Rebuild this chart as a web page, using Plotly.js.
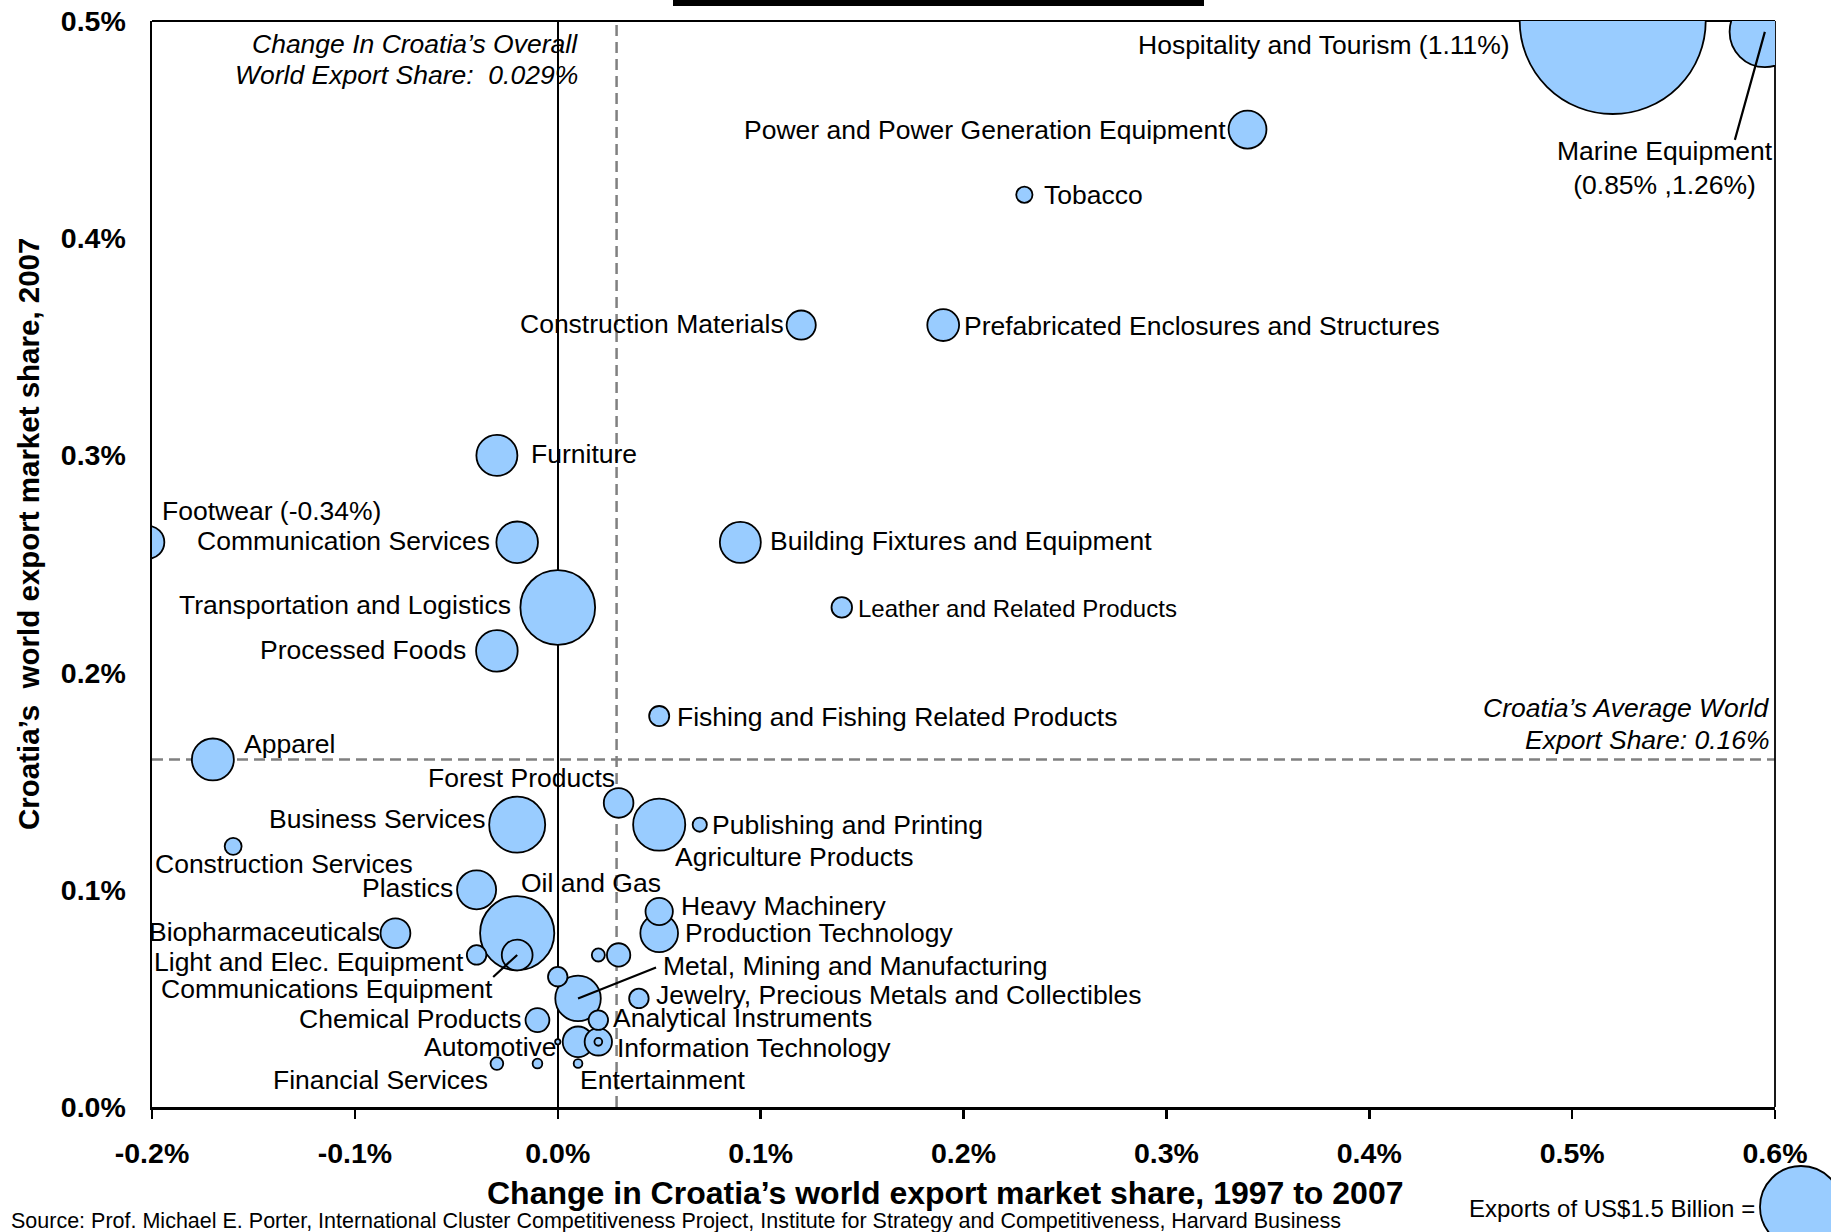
<!DOCTYPE html>
<html>
<head>
<meta charset="utf-8">
<script src="https://cdn.plot.ly/plotly-3.0.1.min.js"></script>
<style>
  html, body { margin: 0; padding: 0; background: #ffffff; }
  #chart { width: 1831px; height: 1232px; }
</style>
</head>
<body>
<div id="chart"></div>
<script>
// ---------------- DATA ----------------
// Cluster label texts ('' = bubble without a label in the original)
const labels = [
  'Hospitality and Tourism (1.11%)',
  'Marine Equipment<br>(0.85% ,1.26%)',
  'Power and Power Generation Equipment',
  'Tobacco',
  'Construction Materials',
  'Prefabricated Enclosures and Structures',
  'Furniture',
  'Footwear (-0.34%)',
  'Communication Services',
  'Transportation and Logistics',
  'Processed Foods',
  'Building Fixtures and Equipment',
  'Leather and Related Products',
  'Fishing and Fishing Related Products',
  'Apparel',
  'Forest Products',
  'Agriculture Products',
  'Publishing and Printing',
  'Business Services',
  'Construction Services',
  'Plastics',
  'Oil and Gas',
  'Biopharmaceuticals',
  'Light and Elec. Equipment',
  'Communications Equipment',
  'Heavy Machinery',
  'Production Technology',
  'Metal, Mining and Manufacturing',
  'Jewelry, Precious Metals and Collectibles',
  'Analytical Instruments',
  'Chemical Products',
  'Information Technology',
  'Automotive',
  'Financial Services',
  'Entertainment',
  '', '', '', '', '', ''
];
// Change in world export market share 1997-2007 (percentage points, as plotted)
const changeShare = [
  0.52, 0.595, 0.34, 0.23, 0.12, 0.19, -0.03, -0.202, -0.02, 0.0,
  -0.03, 0.09, 0.14, 0.05, -0.17, 0.03, 0.05, 0.07, -0.02, -0.16,
  -0.04, -0.02, -0.08, -0.04, -0.02, 0.05, 0.05, 0.01, 0.04, 0.02,
  -0.01, 0.02, 0.01, -0.03, 0.01,
  0.02, 0.0, 0.0, 0.02, 0.03, -0.01
];
// World export market share 2007 (%, as plotted)
const share2007 = [
  0.50, 0.495, 0.45, 0.42, 0.36, 0.36, 0.30, 0.26, 0.26, 0.23,
  0.21, 0.26, 0.23, 0.18, 0.16, 0.14, 0.13, 0.13, 0.13, 0.12,
  0.10, 0.08, 0.08, 0.07, 0.07, 0.09, 0.08, 0.05, 0.05, 0.04,
  0.04, 0.03, 0.03, 0.02, 0.02,
  0.03, 0.03, 0.06, 0.07, 0.07, 0.02
];
// Exports 2007, US$ billion (bubble size)
const exportsBn = [
  7.72, 1.11, 0.32, 0.059, 0.19, 0.226, 0.375, 0.24, 0.386, 1.247,
  0.386, 0.375, 0.094, 0.09, 0.393, 0.196, 0.606, 0.045, 0.70, 0.064,
  0.34, 1.228, 0.199, 0.085, 0.212, 0.167, 0.317, 0.462, 0.085, 0.085,
  0.127, 0.167, 0.21, 0.036, 0.017,
  0.0136, 0.0062, 0.085, 0.038, 0.122, 0.021
];
const overallChange = 0.029;   // Change in Croatia's overall world export share
const averageShare = 0.16;     // Croatia's average world export share
const legendExportBn = 1.5;    // size key bubble

const xTickVals = [-0.2, -0.1, 0.0, 0.1, 0.2, 0.3, 0.4, 0.5, 0.6];
const xTickLabels = ['-0.2%', '-0.1%', '0.0%', '0.1%', '0.2%', '0.3%', '0.4%', '0.5%', '0.6%'];
const yTickVals = [0.0, 0.1, 0.2, 0.3, 0.4, 0.5];
const yTickLabels = ['0.0%', '0.1%', '0.2%', '0.3%', '0.4%', '0.5%'];

// ---------------- LABEL PLACEMENT (style: anchor, dx px, dy px down, font) ----------------
const labelPlacement = [
  ['right', -103, 24], ['center', -100, 136], ['right', -22, 0], ['left', 20, 0],
  ['right', -17, -1], ['left', 21, 1], ['left', 34, -1], ['left', 14, -31],
  ['right', -27, -1], ['right', -47, -2], ['right', -31, -1], ['left', 30, -1],
  ['left', 16, 1, 24], ['left', 18, 1], ['left', 31, -15], ['right', -4, -25],
  ['left', 16, 32], ['left', 12, 0], ['right', -31, -6], ['left', -78, 18],
  ['right', -24, -2], ['left', 4, -50], ['right', -15, -1], ['right', -13, 7],
  ['right', -24, 34], ['left', 22, -6], ['left', 26, 0], ['left', 85, -32],
  ['left', 17, -3], ['left', 15, -2], ['right', -16, -1], ['left', 19, 6],
  ['right', -21, 5], ['right', -9, 16], ['left', 2, 16],
  null, null, null, null, null, null
];
// leader lines: index -> [ax, ay] pixel offset of line start from bubble centre
const leaders = { 1: [-30, 108], 24: [-24, 22], 27: [78, -31] };

// ---------------- LAYOUT GEOMETRY ----------------
const W = 1831, H = 1232;
const M = { l: 152, r: 56, t: 21, b: 125 };
const PW = W - M.l - M.r, PH = H - M.t - M.b;
const XR = [-0.2, 0.6], YR = [0, 0.5];
const pxPerX = PW / (XR[1] - XR[0]), pxPerY = PH / (YR[1] - YR[0]);
const px2paperX = (px) => (px - M.l) / PW;
const px2paperY = (py) => (H - M.b - py) / PH;
const clamp = (v, lo, hi) => Math.min(Math.max(v, lo), hi);

const FONT = 'Liberation Sans, Arial, Helvetica, sans-serif';
const BUBBLE_FILL = '#99CCFF';
const KEY_RADIUS = 41; // px radius of the 1.5 bn key bubble
const sizeref = legendExportBn / (2 * KEY_RADIUS * KEY_RADIUS);

// draw bigger bubbles first so small ones are on top
const order = exportsBn.map((v, i) => i).sort((a, b) => exportsBn[b] - exportsBn[a]);

const bubbles = {
  type: 'scatter',
  mode: 'markers',
  x: order.map(i => changeShare[i]),
  y: order.map(i => share2007[i]),
  text: order.map(i => labels[i]),
  hoverinfo: 'text',
  cliponaxis: true,
  marker: {
    size: order.map(i => exportsBn[i]),
    sizemode: 'area',
    sizeref: sizeref,
    sizemin: 0,
    color: BUBBLE_FILL,
    opacity: 1,
    line: { color: '#000000', width: 1.8 }
  },
  showlegend: false
};

const annotations = [];
labels.forEach((txt, i) => {
  const p = labelPlacement[i];
  if (!txt || !p) return;
  // keep the anchor inside the axis range (annotations outside are hidden)
  const ax0 = clamp(changeShare[i], XR[0], XR[1]);
  const ay0 = clamp(share2007[i], YR[0], YR[1]);
  const extraX = (changeShare[i] - ax0) * pxPerX;
  const extraY = (share2007[i] - ay0) * pxPerY;
  annotations.push({
    xref: 'x', yref: 'y', x: ax0, y: ay0,
    text: txt, showarrow: false,
    xanchor: p[0], yanchor: 'middle', align: p[0] === 'center' ? 'center' : p[0],
    xshift: p[1] + extraX, yshift: -p[2] + extraY,
    borderpad: 0, borderwidth: 0,
    font: { family: FONT, size: p[3] || 26.5, color: '#000000' }
  });
});
Object.keys(leaders).forEach(k => {
  const i = +k;
  annotations.push({
    xref: 'x', yref: 'y', x: changeShare[i], y: share2007[i],
    text: '\u00a0', showarrow: true, arrowhead: 0, arrowwidth: 2.2, arrowcolor: '#000000',
    axref: 'pixel', ayref: 'pixel', ax: leaders[k][0], ay: leaders[k][1],
    standoff: 0, startstandoff: 0, borderpad: 0, borderwidth: 0,
    font: { family: FONT, size: 1, color: 'rgba(0,0,0,0)' }
  });
});

// reference-line notes (one annotation per line for tighter line spacing)
function note(text, xr, yc) {
  annotations.push({
    xref: 'paper', yref: 'paper', x: px2paperX(xr), y: px2paperY(yc),
    xanchor: 'right', yanchor: 'middle', align: 'right', showarrow: false,
    borderpad: 0, borderwidth: 0,
    text: text, font: { family: FONT, size: 26.5, style: 'italic', color: '#000000' }
  });
}
note('Change In Croatia\u2019s Overall', 578, 44);
note('World Export Share:\u00a0 0.029%', 578, 75);
note('Croatia\u2019s Average World', 1770, 708);
note('Export Share: 0.16%', 1770, 740);

// axis titles
annotations.push({
  xref: 'paper', yref: 'paper', x: px2paperX(945), y: px2paperY(1193),
  xanchor: 'center', yanchor: 'middle', showarrow: false,
  text: 'Change in Croatia\u2019s world export market share, 1997 to 2007',
  font: { family: FONT, size: 32, weight: 'bold', color: '#000000' }
});
annotations.push({
  xref: 'paper', yref: 'paper', x: px2paperX(28), y: px2paperY(534),
  xanchor: 'center', yanchor: 'middle', showarrow: false, textangle: -90,
  text: 'Croatia\u2019s\u00a0 world export market share, 2007',
  font: { family: FONT, size: 29.5, weight: 'bold', color: '#000000' }
});
// source & size key
annotations.push({
  xref: 'paper', yref: 'paper', x: px2paperX(9), y: px2paperY(1221),
  xanchor: 'left', yanchor: 'middle', showarrow: false,
  text: 'Source: Prof. Michael E. Porter, International Cluster Competitiveness Project, Institute for Strategy and Competitiveness, Harvard Business',
  font: { family: FONT, size: 21.5, color: '#000000' }
});
annotations.push({
  xref: 'paper', yref: 'paper', x: px2paperX(1757), y: px2paperY(1208),
  xanchor: 'right', yanchor: 'middle', showarrow: false,
  text: 'Exports of US$1.5 Billion =',
  font: { family: FONT, size: 24, color: '#000000' }
});

const keyR = Math.sqrt(legendExportBn / 2 / sizeref);
const shapes = [
  // dashed reference lines
  { type: 'line', xref: 'x', yref: 'paper', x0: overallChange, x1: overallChange, y0: 0, y1: 1,
    line: { color: '#808080', width: 2.5, dash: '11px,6px' }, layer: 'below' },
  { type: 'line', xref: 'paper', yref: 'y', x0: 0, x1: 1, y0: averageShare, y1: averageShare,
    line: { color: '#808080', width: 2.5, dash: '11px,6px' }, layer: 'below' },
  // top & right frame
  { type: 'line', xref: 'paper', yref: 'paper', x0: 0, x1: 1, y0: 1, y1: 1,
    line: { color: '#000000', width: 1.8 }, layer: 'below' },
  { type: 'line', xref: 'paper', yref: 'paper', x0: 1, x1: 1, y0: 0, y1: 1,
    line: { color: '#000000', width: 1.8 }, layer: 'below' },
  // black bar at top (cropped title box)
  { type: 'rect', xref: 'paper', yref: 'paper', x0: px2paperX(673), x1: px2paperX(1204),
    y0: px2paperY(6), y1: px2paperY(-2), fillcolor: '#000000', line: { width: 0 }, layer: 'above' },
  // size key bubble
  { type: 'circle', xref: 'paper', yref: 'paper', xsizemode: 'pixel', ysizemode: 'pixel',
    xanchor: px2paperX(1801), yanchor: px2paperY(1207),
    x0: -keyR, x1: keyR, y0: -keyR, y1: keyR,
    fillcolor: BUBBLE_FILL, line: { color: '#000000', width: 1.8 }, layer: 'above' }
];

const layout = {
  width: W, height: H,
  margin: M,
  paper_bgcolor: '#ffffff', plot_bgcolor: '#ffffff',
  font: { family: FONT, color: '#000000' },
  showlegend: false,
  xaxis: {
    range: XR, tickmode: 'array', tickvals: xTickVals, ticktext: xTickLabels,
    showgrid: false, zeroline: true, zerolinecolor: '#000000', zerolinewidth: 1.6,
    showline: true, linecolor: '#000000', linewidth: 2.5,
    ticks: 'outside', ticklen: 9, tickwidth: 2.5, tickcolor: '#000000',
    ticklabelstandoff: 10,
    tickfont: { family: FONT, size: 28.5, weight: 'bold', color: '#000000' },
    fixedrange: true
  },
  yaxis: {
    range: YR, tickmode: 'array', tickvals: yTickVals, ticktext: yTickLabels,
    showgrid: false, zeroline: false,
    showline: true, linecolor: '#000000', linewidth: 2.5,
    ticks: '', ticklabelstandoff: 18,
    tickfont: { family: FONT, size: 28.5, weight: 'bold', color: '#000000' },
    fixedrange: true
  },
  shapes: shapes,
  annotations: annotations
};

Plotly.newPlot('chart', [bubbles], layout, { staticPlot: true, displayModeBar: false });
</script>
</body>
</html>
